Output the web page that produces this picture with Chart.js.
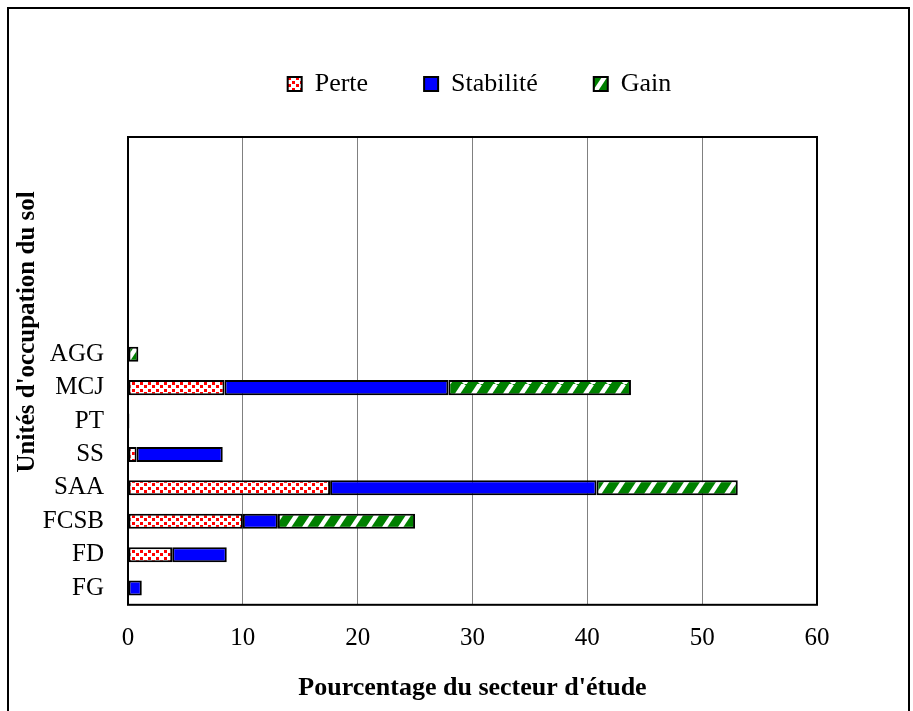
<!DOCTYPE html>
<html>
<head>
<meta charset="utf-8">
<title>Unités d'occupation du sol</title>
<script src="https://cdn.jsdelivr.net/npm/chart.js@4.4.1/dist/chart.umd.min.js"></script>
<style>
    html, body { margin: 0; padding: 0; background: #fff; }
    canvas { display: block; }
</style>
</head>
<body>
<canvas id="chart--bar" width="913" height="711"></canvas>
<script>
// land-use classes, top to bottom (six empty slots above AGG)
const labels_bar = ['', '', '', '', '', '', 'AGG', 'MCJ', 'PT', 'SS', 'SAA', 'FCSB', 'FD', 'FG'];
const perte = [null, null, null, null, null, null, null, 8.4, null, 0.75, 17.6, 10.0, 3.85, null];
const stabilite = [null, null, null, null, null, null, null, 19.5, 0.12, 7.5, 23.2, 3.05, 4.75, 1.2];
const gain = [null, null, null, null, null, null, 0.9, 15.9, null, null, 12.3, 11.95, null, null];
const x_ticks = [0, 10, 20, 30, 40, 50, 60];

const serif = '"Liberation Serif", "Times New Roman", serif';
Chart.defaults.color = '#000';
Chart.defaults.font.family = serif;

// red squares on white
function dotPattern() {
    const c = document.createElement('canvas');
    c.width = 8;
    c.height = 7;
    const g = c.getContext('2d');
    g.fillStyle = '#fff';
    g.fillRect(0, 0, 8, 7);
    g.fillStyle = '#ff0000';
    g.fillRect(0, 0, 3, 3);
    g.fillRect(4, 4, 3, 3);
    return g.createPattern(c, 'repeat');
}

// white slashes on green
function stripePattern() {
    const c = document.createElement('canvas');
    c.width = 16;
    c.height = 24;
    const g = c.getContext('2d');
    g.fillStyle = '#008000';
    g.fillRect(0, 0, 16, 24);
    g.strokeStyle = '#fff';
    g.lineWidth = 4.5;
    [-16, 0, 16].forEach(function (dx) {
        g.beginPath();
        g.moveTo(dx, 24);
        g.lineTo(dx + 16, 0);
        g.stroke();
    });
    return g.createPattern(c, 'repeat');
}

const data_bar = {
    labels: labels_bar,
    datasets: [{
            label: 'Perte',
            data: perte,
            backgroundColor: dotPattern(),
            borderColor: '#000',
            borderWidth: 2,
            borderSkipped: false
        },
        {
            label: 'Stabilité',
            data: stabilite,
            backgroundColor: '#0000ff',
            borderColor: '#000',
            borderWidth: 2,
            borderSkipped: false
        },
        {
            label: 'Gain',
            data: gain,
            backgroundColor: stripePattern(),
            borderColor: '#000',
            borderWidth: 2,
            borderSkipped: false
        }
    ]
};

// plot frame, outer frame, rotated y title, legend placement
const framePlugin = {
    id: 'frame',
    beforeInit(chart) {
        const fit = chart.legend.fit;
        chart.legend.fit = function () {
            fit.call(this);
            this.height = 122;
        };
    },
    afterLayout(chart) {
        chart.legend.left += 51;
        chart.legend.right += 51;
    },
    afterDraw(chart) {
        const ctx = chart.ctx;
        const a = chart.chartArea;
        ctx.save();
        ctx.strokeStyle = '#000';
        ctx.lineWidth = 2;
        ctx.strokeRect(a.left, a.top, a.right - a.left, a.bottom - a.top);
        ctx.strokeRect(8, 8, 901, 730);
        ctx.translate(28, (a.top + a.bottom) / 2 - 39);
        ctx.rotate(-Math.PI / 2);
        ctx.font = 'bold 25px ' + serif;
        ctx.textAlign = 'center';
        ctx.textBaseline = 'middle';
        ctx.fillStyle = '#000';
        ctx.fillText("Unités d'occupation du sol", 0, 0);
        ctx.restore();
    }
};

const config_bar = {
    type: 'bar',
    data: data_bar,
    options: {
        indexAxis: 'y',
        responsive: false,
        animation: false,
        barPercentage: 0.45,
        categoryPercentage: 1,
        layout: {
            padding: { top: 15, right: 96, bottom: 7, left: 40 }
        },
        scales: {
            x: {
                stacked: true,
                min: x_ticks[0],
                max: x_ticks[x_ticks.length - 1],
                ticks: {
                    stepSize: 10,
                    padding: 19,
                    font: { size: 25 }
                },
                grid: {
                    color: '#808080',
                    lineWidth: 1,
                    drawTicks: false
                },
                border: { display: false },
                title: {
                    display: true,
                    text: "Pourcentage du secteur d'étude",
                    font: { size: 26, weight: 'bold' },
                    padding: { top: 0, bottom: 0 }
                }
            },
            y: {
                stacked: true,
                ticks: {
                    autoSkip: false,
                    padding: 24,
                    font: { size: 25 }
                },
                grid: { display: false, drawTicks: false },
                border: { display: false },
                afterFit: function (scale) {
                    scale.width = 88;
                }
            }
        },
        plugins: {
            legend: {
                position: 'top',
                labels: {
                    boxWidth: 14,
                    boxHeight: 14,
                    padding: 56,
                    font: { size: 26 }
                }
            },
            tooltip: { enabled: false }
        }
    },
    plugins: [framePlugin]
};

var chartbar = new Chart(
    document.getElementById('chart--bar'),
    config_bar
);
</script>
</body>
</html>
